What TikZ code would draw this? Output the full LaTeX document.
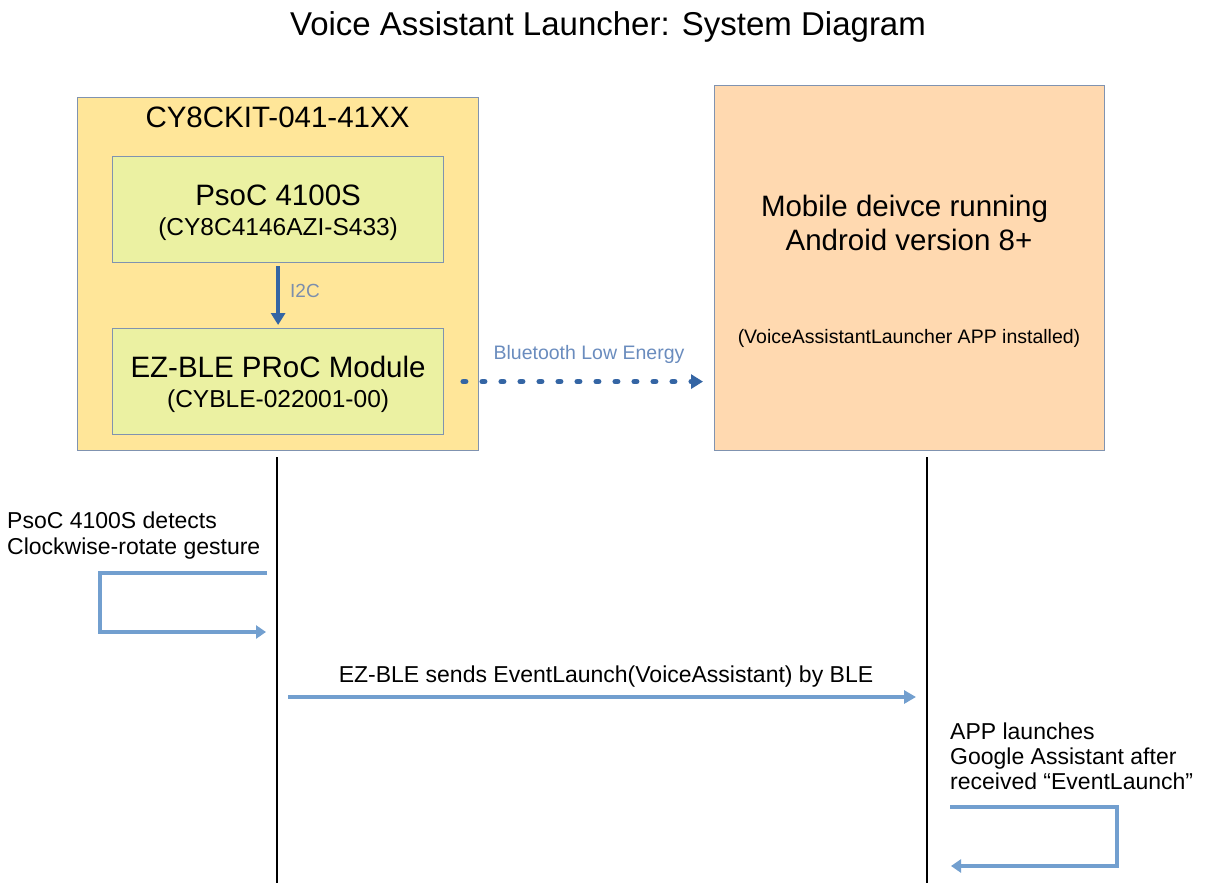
\documentclass[tikz,border=0pt]{standalone}
\usepackage{fontspec}
\setmainfont{Liberation Sans}
\usetikzlibrary{arrows.meta}
\definecolor{kitfill}{HTML}{FFE699}
\definecolor{chipfill}{HTML}{EBF1A2}
\definecolor{mobfill}{HTML}{FFD9B0}
\definecolor{boxline}{HTML}{8093B0}
\definecolor{darkarrow}{HTML}{3465A4}
\definecolor{lightarrow}{HTML}{729FCF}
\definecolor{labelgray}{HTML}{7B8EAD}
\definecolor{blelabel}{HTML}{6A8CBE}
\newcommand\fsz[2]{\fontsize{#1}{#2}\selectfont}
\begin{document}
\begin{tikzpicture}[x=1pt,y=-1pt,
  box/.style={draw=boxline, line width=1.2pt, inner sep=0pt, anchor=north west},
  chip/.style={box, fill=chipfill, minimum width=331pt, minimum height=106pt, align=center, font=\fsz{24.5}{30}},
  txt/.style={inner sep=0pt, text=black},
  lifeline/.style={draw=black, line width=2pt},
  loopline/.style={draw=lightarrow, line width=4.5pt, -{Triangle[length=10pt,width=13pt]}},
  msg/.style={draw=lightarrow, line width=4.5pt, -{Triangle[length=12pt,width=13pt]}},
  i2carrow/.style={draw=darkarrow, line width=4pt, -{Triangle[length=12pt,width=14pt]}},
  bledots/.style={draw=darkarrow, line width=5.5pt, line cap=round, dash pattern=on 2.5pt off 16.5pt, -{Triangle[length=12pt,width=14pt]}}
]
\useasboundingbox (0,0) rectangle (1205,883);
\fill[white] (0,0) rectangle (1205,883);

% title
\node[txt, anchor=base, font=\fsz{33}{38}] (title) at (608,36) {Voice Assistant Launcher: System Diagram};

% kit box
\node[box, fill=kitfill, minimum width=401pt, minimum height=353pt] (kit) at (77,97) {};
\node[txt, anchor=base, font=\fsz{29.5}{34}] (kitlabel) at (277.5,127) {CY8CKIT-041-41XX};
\node[chip] (psoc) at (112,156) {{\fsz{29.5}{30}\rule{0pt}{27pt}PsoC 4100S}\\(CY8C4146AZI-S433)};
\node[chip] (ezble) at (112,328) {{\fsz{29.5}{30}\rule{0pt}{26pt}EZ-BLE PRoC Module}\\(CYBLE-022001-00)};

% mobile box
\node[box, fill=mobfill, minimum width=390pt, minimum height=365pt] (mobile) at (714,85) {};
\node[txt, anchor=north, align=center, font=\fsz{29.5}{34}] (mobtxt) at (909,195) {Mobile deivce running\hspace*{9pt}\\Android version 8+};
\node[txt, anchor=base, font=\fsz{19.5}{24}] (apptxt) at (909,343) {(VoiceAssistantLauncher APP installed)};

% I2C
\draw[i2carrow, shorten <=3pt, shorten >=3pt] (psoc.south) -- (ezble.north);
\node[txt, anchor=base west, text=labelgray, font=\fsz{19}{23}] (i2c) at (290,297) {I2C};

% BLE
\draw[bledots, shorten <=19pt, shorten >=11pt] (ezble.east) -- (ezble.east -| mobile.west);
\node[txt, anchor=base, text=blelabel, font=\fsz{19.5}{23}] (blel) at (589,359) {Bluetooth Low Energy};

% lifelines
\coordinate (l1a) at (277,457);
\coordinate (l1b) at (277,883);
\coordinate (l2a) at (927,457);
\coordinate (l2b) at (927,883);
\draw[lifeline] (l1a) -- (l1b);
\draw[lifeline] (l2a) -- (l2b);

% left self loop
\node[txt, anchor=north west, align=left, font=\fsz{23}{25.5}] (gesture) at (7,512) {PsoC 4100S detects\\Clockwise-rotate gesture};
\coordinate (g1) at (267,573);
\coordinate (g2) at (100,573);
\coordinate (g3) at (100,632);
\coordinate (g4) at (266,632);
\draw[loopline] (g1) -- (g2) -- (g3) -- (g4);

% message
\coordinate (m1) at (288,697);
\coordinate (m2) at (916,697);
\draw[msg] (m1) -- (m2);
\node[txt, anchor=base, font=\fsz{23}{26}] (msgl) at (606,682) {EZ-BLE sends EventLaunch(VoiceAssistant) by BLE};

% right self loop
\node[txt, anchor=north west, align=left, font=\fsz{23}{25}] (applaunch) at (950,723) {APP launches\\Google Assistant after\\received “EventLaunch”};
\coordinate (r1) at (950,807);
\coordinate (r2) at (1117,807);
\coordinate (r3) at (1117,866);
\coordinate (r4) at (951,866);
\draw[loopline] (r1) -- (r2) -- (r3) -- (r4);
\end{tikzpicture}
\end{document}
